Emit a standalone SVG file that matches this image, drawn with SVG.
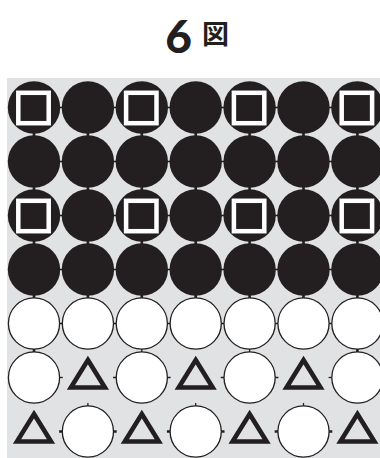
<svg xmlns="http://www.w3.org/2000/svg" xmlns:xlink="http://www.w3.org/1999/xlink" width="380" height="458" viewBox="0 0 380 458">
<style>
.title{font-family:Lato,"Noto Sans","Noto Sans CJK JP",sans-serif;font-weight:900;fill:#231f20}
.kan{font-family:"Noto Sans CJK JP",sans-serif;font-weight:700;fill:#231f20}
.h{stroke:#231f20;stroke-width:1.3;fill:none}
.v{stroke:#231f20;stroke-width:2.6;fill:none}
.tk{stroke:#231f20;stroke-width:2.4;fill:none}
.tn{stroke:#231f20;stroke-width:1.3;fill:none}
</style>
<defs>
<circle id="bk" r="26.2" fill="#231f20"/>
<circle id="wh" r="25.6" fill="#ffffff" stroke="#231f20" stroke-width="1.3"/>
<rect id="sq" x="-15.7" y="-14.7" width="30.4" height="30.4" fill="none" stroke="#ffffff" stroke-width="4.5"/>
<polygon id="tri" points="0,-17.5 17,10 -17,10" fill="none" stroke="#231f20" stroke-width="4.6" stroke-miterlimit="10"/>
</defs>
<rect x="7" y="78" width="373" height="380" fill="#e1e2e4"/>
<text class="title" x="178.5" y="52.5" font-size="46" text-anchor="middle">6</text>
<text class="kan" x="215.5" y="44" font-size="27" text-anchor="middle">図</text>
<g id="connectors">
<line class="h" x1="34" y1="107.5" x2="357.4" y2="107.5"/>
<line class="h" x1="34" y1="161.5" x2="357.4" y2="161.5"/>
<line class="h" x1="34" y1="215.5" x2="357.4" y2="215.5"/>
<line class="h" x1="34" y1="269.5" x2="357.4" y2="269.5"/>
<line class="h" x1="34" y1="323.5" x2="357.4" y2="323.5"/>
<line class="v" x1="34" y1="107.5" x2="34" y2="377.5"/>
<line class="v" x1="87.9" y1="107.5" x2="87.9" y2="323.5"/>
<line class="v" x1="141.8" y1="107.5" x2="141.8" y2="323.5"/>
<line class="tn" x1="141.8" y1="323.5" x2="141.8" y2="377.5"/>
<line class="v" x1="195.7" y1="107.5" x2="195.7" y2="323.5"/>
<line class="v" x1="249.6" y1="107.5" x2="249.6" y2="323.5"/>
<line class="tn" x1="249.6" y1="323.5" x2="249.6" y2="377.5"/>
<line class="v" x1="303.5" y1="107.5" x2="303.5" y2="323.5"/>
<line class="v" x1="357.4" y1="107.5" x2="357.4" y2="377.5"/>
<line class="tn" x1="34" y1="377.5" x2="62.8" y2="377.5"/>
<line class="tn" x1="113" y1="377.5" x2="170.6" y2="377.5"/>
<line class="tn" x1="220.8" y1="377.5" x2="278.4" y2="377.5"/>
<line class="tn" x1="328.6" y1="377.5" x2="357.4" y2="377.5"/>
<line class="tk" x1="59.1" y1="431.5" x2="116.7" y2="431.5"/>
<line class="tn" x1="87.9" y1="403" x2="87.9" y2="431.5"/>
<line class="tk" x1="166.9" y1="431.5" x2="224.5" y2="431.5"/>
<line class="tn" x1="195.7" y1="403" x2="195.7" y2="431.5"/>
<line class="tk" x1="274.7" y1="431.5" x2="332.3" y2="431.5"/>
<line class="tn" x1="303.5" y1="403" x2="303.5" y2="431.5"/>
</g>
<g id="r1c1" transform="translate(34,107.5)"><use href="#bk"/><use href="#sq"/></g>
<g id="r1c2" transform="translate(87.9,107.5)"><use href="#bk"/></g>
<g id="r1c3" transform="translate(141.8,107.5)"><use href="#bk"/><use href="#sq"/></g>
<g id="r1c4" transform="translate(195.7,107.5)"><use href="#bk"/></g>
<g id="r1c5" transform="translate(249.6,107.5)"><use href="#bk"/><use href="#sq"/></g>
<g id="r1c6" transform="translate(303.5,107.5)"><use href="#bk"/></g>
<g id="r1c7" transform="translate(357.4,107.5)"><use href="#bk"/><use href="#sq"/></g>
<g id="r2c1" transform="translate(34,161.5)"><use href="#bk"/></g>
<g id="r2c2" transform="translate(87.9,161.5)"><use href="#bk"/></g>
<g id="r2c3" transform="translate(141.8,161.5)"><use href="#bk"/></g>
<g id="r2c4" transform="translate(195.7,161.5)"><use href="#bk"/></g>
<g id="r2c5" transform="translate(249.6,161.5)"><use href="#bk"/></g>
<g id="r2c6" transform="translate(303.5,161.5)"><use href="#bk"/></g>
<g id="r2c7" transform="translate(357.4,161.5)"><use href="#bk"/></g>
<g id="r3c1" transform="translate(34,215.5)"><use href="#bk"/><use href="#sq"/></g>
<g id="r3c2" transform="translate(87.9,215.5)"><use href="#bk"/></g>
<g id="r3c3" transform="translate(141.8,215.5)"><use href="#bk"/><use href="#sq"/></g>
<g id="r3c4" transform="translate(195.7,215.5)"><use href="#bk"/></g>
<g id="r3c5" transform="translate(249.6,215.5)"><use href="#bk"/><use href="#sq"/></g>
<g id="r3c6" transform="translate(303.5,215.5)"><use href="#bk"/></g>
<g id="r3c7" transform="translate(357.4,215.5)"><use href="#bk"/><use href="#sq"/></g>
<g id="r4c1" transform="translate(34,269.5)"><use href="#bk"/></g>
<g id="r4c2" transform="translate(87.9,269.5)"><use href="#bk"/></g>
<g id="r4c3" transform="translate(141.8,269.5)"><use href="#bk"/></g>
<g id="r4c4" transform="translate(195.7,269.5)"><use href="#bk"/></g>
<g id="r4c5" transform="translate(249.6,269.5)"><use href="#bk"/></g>
<g id="r4c6" transform="translate(303.5,269.5)"><use href="#bk"/></g>
<g id="r4c7" transform="translate(357.4,269.5)"><use href="#bk"/></g>
<g id="r5c1" transform="translate(34,323.5)"><use href="#wh"/></g>
<g id="r5c2" transform="translate(87.9,323.5)"><use href="#wh"/></g>
<g id="r5c3" transform="translate(141.8,323.5)"><use href="#wh"/></g>
<g id="r5c4" transform="translate(195.7,323.5)"><use href="#wh"/></g>
<g id="r5c5" transform="translate(249.6,323.5)"><use href="#wh"/></g>
<g id="r5c6" transform="translate(303.5,323.5)"><use href="#wh"/></g>
<g id="r5c7" transform="translate(357.4,323.5)"><use href="#wh"/></g>
<g id="r6c1" transform="translate(34,377.5)"><use href="#wh"/></g>
<g id="r6c2" transform="translate(87.9,377.5)"><use href="#tri"/></g>
<g id="r6c3" transform="translate(141.8,377.5)"><use href="#wh"/></g>
<g id="r6c4" transform="translate(195.7,377.5)"><use href="#tri"/></g>
<g id="r6c5" transform="translate(249.6,377.5)"><use href="#wh"/></g>
<g id="r6c6" transform="translate(303.5,377.5)"><use href="#tri"/></g>
<g id="r6c7" transform="translate(357.4,377.5)"><use href="#wh"/></g>
<g id="r7c1" transform="translate(34,431.5)"><use href="#tri"/></g>
<g id="r7c2" transform="translate(87.9,431.5)"><use href="#wh"/></g>
<g id="r7c3" transform="translate(141.8,431.5)"><use href="#tri"/></g>
<g id="r7c4" transform="translate(195.7,431.5)"><use href="#wh"/></g>
<g id="r7c5" transform="translate(249.6,431.5)"><use href="#tri"/></g>
<g id="r7c6" transform="translate(303.5,431.5)"><use href="#wh"/></g>
<g id="r7c7" transform="translate(357.4,431.5)"><use href="#tri"/></g>
</svg>
